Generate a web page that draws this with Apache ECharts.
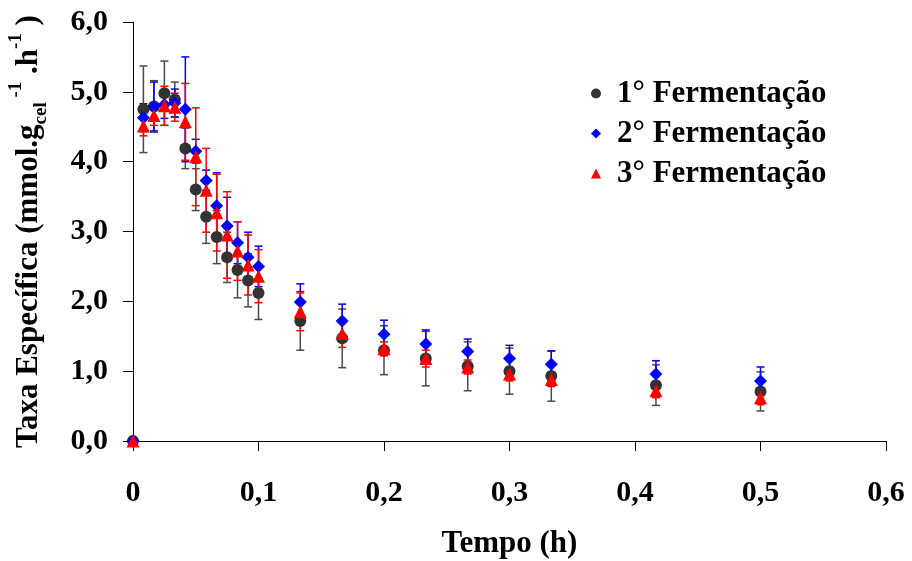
<!DOCTYPE html>
<html>
<head>
<meta charset="utf-8">
<script src="https://cdn.jsdelivr.net/npm/echarts@6/dist/echarts.min.js"></script>
<style>
    html, body { margin: 0; padding: 0; background: #fff; }
    #chartDiv { width: 912px; height: 561px; }
</style>
</head>
<body>
<div id="chartDiv"></div>
<script>
// tempo (h): 30 s steps up to 6 min, then 8..20 min, 25 and 30 min
var tempo = [0, 0.0083, 0.0167, 0.025, 0.0333, 0.0417, 0.05, 0.0583, 0.0667, 0.075, 0.0833, 0.0917, 0.1,
    0.1333, 0.1667, 0.2, 0.2333, 0.2667, 0.3, 0.3333, 0.4167, 0.5];

var ferm1 = [0, 4.75, 4.79, 4.98, 4.89, 4.19, 3.60, 3.21, 2.92, 2.63, 2.45, 2.30, 2.12,
    1.72, 1.47, 1.30, 1.18, 1.07, 1.00, 0.93, 0.80, 0.71];
var erro1 = [0, 0.62, 0.37, 0.46, 0.25, 0.29, 0.30, 0.38, 0.38, 0.36, 0.40, 0.38, 0.38,
    0.42, 0.42, 0.35, 0.39, 0.35, 0.33, 0.36, 0.29, 0.28];

var ferm2 = [0, 4.63, 4.79, 4.82, 4.84, 4.75, 4.15, 3.73, 3.37, 3.08, 2.84, 2.63, 2.50,
    1.99, 1.72, 1.53, 1.39, 1.28, 1.18, 1.10, 0.96, 0.86];
var erro2 = [0, 0.20, 0.35, 0.20, 0.20, 0.75, 0.17, 0.15, 0.47, 0.41, 0.30, 0.36, 0.29,
    0.26, 0.24, 0.20, 0.20, 0.18, 0.19, 0.19, 0.19, 0.20];

var ferm3 = [0, 4.51, 4.66, 4.80, 4.78, 4.57, 4.07, 3.59, 3.27, 2.95, 2.72, 2.52, 2.36,
    1.85, 1.54, 1.32, 1.18, 1.06, 0.96, 0.88, 0.72, 0.62];
var erro3 = [0, 0.14, 0.14, 0.28, 0.20, 0.55, 0.70, 0.60, 0.55, 0.62, 0.42, 0.43, 0.38,
    0.27, 0.20, 0.10, 0.12, 0.10, 0.10, 0.10, 0.10, 0.10];

var nomes = ['1° Fermentação', '2° Fermentação', '3° Fermentação'];
var cores = ['#333333', '#0000ff', '#ff0000'];
var barCores = ['#4a4a4a', '#0000ff', '#ff0000'];
var simbolos = ['circle', 'diamond', 'triangle'];
var tamanhos = [12, 13, 13];

var fonte = '"Liberation Serif", "Times New Roman", serif';

function montaPontos(valores) {
    var pts = [];
    for (var i = 0; i < tempo.length; i++) {
        pts.push([tempo[i], valores[i]]);
    }
    return pts;
}

function montaErros(valores, erros) {
    var pts = [];
    for (var i = 0; i < tempo.length; i++) {
        if (erros[i] > 0) {
            pts.push([tempo[i], valores[i], erros[i]]);
        }
    }
    return pts;
}

function virgula(v, casas) {
    if (v === 0 && casas === 0) return '0';
    return v.toFixed(casas).replace('.', ',');
}

function serieErro(valores, erros, cor) {
    return {
        type : 'custom',
        silent : true,
        z : 1,
        data : montaErros(valores, erros),
        encode : { x : 0, y : 1 },
        renderItem : function (params, api) {
            var x = api.value(0), y = api.value(1), e = api.value(2);
            var topo = api.coord([x, y + e]);
            var base = api.coord([x, y - e]);
            var w = 4;
            var estilo = { stroke : cor, lineWidth : 1.5 };
            return {
                type : 'group',
                children : [
                    { type : 'line', shape : { x1 : topo[0], y1 : topo[1], x2 : base[0], y2 : base[1] }, style : estilo },
                    { type : 'line', shape : { x1 : topo[0] - w, y1 : topo[1], x2 : topo[0] + w, y2 : topo[1] }, style : estilo },
                    { type : 'line', shape : { x1 : base[0] - w, y1 : base[1], x2 : base[0] + w, y2 : base[1] }, style : estilo }
                ]
            };
        }
    };
}

var chart = echarts.init(document.getElementById('chartDiv'));

var series = [
    serieErro(ferm1, erro1, barCores[0]),
    serieErro(ferm2, erro2, barCores[1]),
    serieErro(ferm3, erro3, barCores[2])
];
var medias = [ferm1, ferm2, ferm3];
for (var s = 0; s < 3; s++) {
    series.push({
        name : nomes[s],
        type : 'scatter',
        z : 2 + s,
        symbol : simbolos[s],
        symbolSize : tamanhos[s],
        itemStyle : { color : cores[s], opacity : 1 },
        data : montaPontos(medias[s])
    });
}

var option = {
    animation : false,
    backgroundColor : '#ffffff',
    grid : { left : 133, right : 26, top : 22, bottom : 120, outerBoundsMode : 'none', containLabel : false },
    legend : {
        orient : 'vertical',
        left : 586,
        top : 73,
        itemWidth : 10,
        itemHeight : 10,
        itemGap : 9,
        data : nomes,
        textStyle : {
            fontFamily : fonte, fontWeight : 'bold', fontSize : 31, color : '#000',
            padding : [0, 0, 0, 11]
        }
    },
    xAxis : {
        type : 'value',
        min : 0,
        max : 0.6,
        interval : 0.1,
        name : 'Tempo (h)',
        nameLocation : 'middle',
        nameGap : 87,
        nameTextStyle : { fontFamily : fonte, fontWeight : 'bold', fontSize : 31, color : '#000' },
        axisLine : { lineStyle : { color : '#000', width : 1 } },
        axisTick : { show : true, inside : false, length : 10, lineStyle : { color : '#000' } },
        splitLine : { show : false },
        axisLabel : {
            margin : 37,
            fontFamily : fonte, fontWeight : 'bold', fontSize : 30, color : '#000',
            formatter : function (v) { return virgula(v, v === 0 ? 0 : 1); }
        }
    },
    yAxis : {
        type : 'value',
        min : 0,
        max : 6,
        interval : 1,
        name : '{a|Taxa Específica (mmol.g}{sub|cel}{sup| -1}{a| .h}{sup|-1}{a| )}',
        nameLocation : 'middle',
        nameRotate : 90,
        nameGap : 82,
        nameTextStyle : {
            fontFamily : fonte, fontWeight : 'bold', fontSize : 31, color : '#000',
            rich : {
                a : { fontFamily : fonte, fontWeight : 'bold', fontSize : 31, color : '#000', lineHeight : 44 },
                sub : { fontFamily : fonte, fontWeight : 'bold', fontSize : 19, color : '#000', lineHeight : 44, verticalAlign : 'bottom' },
                sup : { fontFamily : fonte, fontWeight : 'bold', fontSize : 19, color : '#000', lineHeight : 44, verticalAlign : 'top' }
            }
        },
        axisLine : { show : true, lineStyle : { color : '#000', width : 1 } },
        axisTick : { show : true, inside : false, length : 10, lineStyle : { color : '#000' } },
        splitLine : { show : false },
        axisLabel : {
            margin : 25,
            fontFamily : fonte, fontWeight : 'bold', fontSize : 30, color : '#000',
            formatter : function (v) { return virgula(v, 1); }
        }
    },
    series : series
};

chart.setOption(option);
</script>
</body>
</html>
